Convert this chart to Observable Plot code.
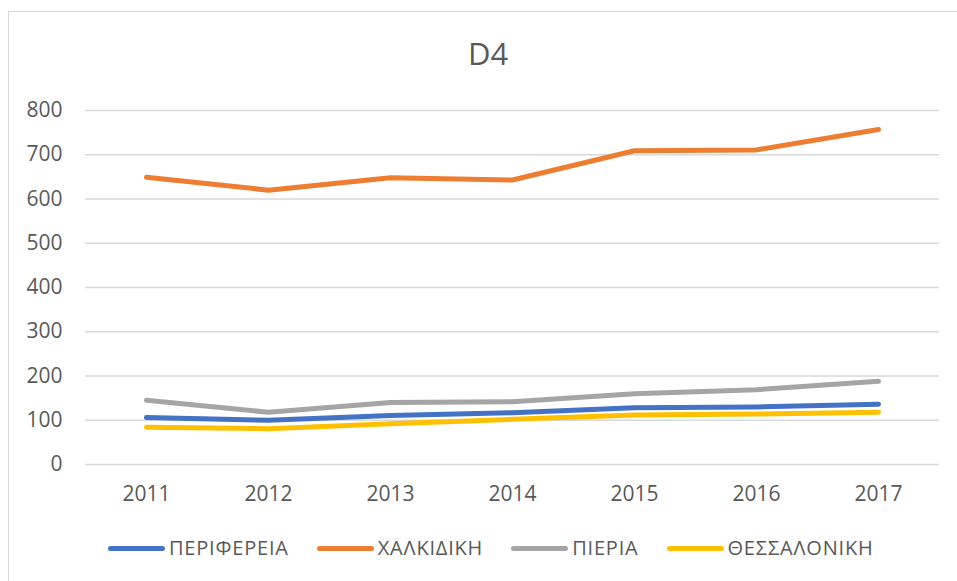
<!DOCTYPE html>
<html>
<head>
<meta charset="utf-8">
<script src="https://cdn.jsdelivr.net/npm/d3@7"></script>
<script src="https://cdn.jsdelivr.net/npm/@observablehq/plot@0.6"></script>
<style>
  html, body { margin: 0; padding: 0; background: #fff; }
  body { position: relative; width: 957px; height: 581px; overflow: hidden; font-family: "Open Sans", sans-serif; color: #595959; }
  #frame { position: absolute; left: 8px; top: 11px; width: 1200px; height: 1200px; border: 1.5px solid #d9d9d9; box-sizing: border-box; }
  #title { position: absolute; top: 38px; left: 0; width: 976px; text-align: center; font-size: 31px; line-height: 1; }
  #chart { position: absolute; top: 95px; left: 0; }
  #legend { position: absolute; top: 538px; left: 108px; display: flex; align-items: center; font-size: 20px; line-height: 20px; white-space: nowrap; letter-spacing: 0.8px; }
  .item { display: flex; align-items: center; margin-right: 28px; }
  .sw { display: inline-block; width: 57px; height: 5px; border-radius: 3px; margin-right: 4px; }
</style>
</head>
<body>
<div id="frame"></div>
<div id="title">D4</div>
<div id="chart"></div>
<div id="legend"></div>
<script>
const years = [2011, 2012, 2013, 2014, 2015, 2016, 2017];
const seriesNames = ["ΠΕΡΙΦΕΡΕΙΑ", "ΧΑΛΚΙΔΙΚΗ", "ΠΙΕΡΙΑ", "ΘΕΣΣΑΛΟΝΙΚΗ"];
const seriesColors = ["#4472C4", "#ED7D31", "#A5A5A5", "#FFC000"];
const perifereia = [106, 100, 111, 117, 128, 130, 136];
const chalkidiki = [649, 620, 648, 643, 709, 711, 757];
const pieria = [145, 118, 140, 142, 160, 169, 188];
const thessaloniki = [84, 81, 92, 102, 112, 114, 118];
const yTicks = [0, 100, 200, 300, 400, 500, 600, 700, 800];

const seriesValues = [perifereia, chalkidiki, pieria, thessaloniki];
const data = [];
seriesNames.forEach((name, i) => {
  years.forEach((yr, j) => data.push({ series: name, year: String(yr), value: seriesValues[i][j] }));
});

const chart = Plot.plot({
  width: 957,
  height: 425,
  marginLeft: 85,
  marginRight: 18,
  marginTop: 15,
  marginBottom: 56,
  style: { fontFamily: "Open Sans, sans-serif", fontSize: "21px", color: "#595959", background: "transparent", overflow: "visible" },
  x: { type: "point", domain: years.map(String), padding: 0.5, label: null },
  y: { domain: [0, 800], ticks: yTicks, label: null },
  color: { domain: seriesNames, range: seriesColors },
  marks: [
    Plot.gridY(yTicks, { stroke: "#d9d9d9", strokeOpacity: 1, strokeWidth: 1.5 }),
    Plot.axisY({ ticks: yTicks, tickSize: 0, tickPadding: 23, fill: "#595959", fontSize: 21 }),
    Plot.axisX({ tickSize: 0, tickPadding: 22, fill: "#595959", fontSize: 21 }),
    Plot.lineY(data, { x: "year", y: "value", z: "series", stroke: "series", strokeWidth: 5, strokeLinecap: "round", strokeLinejoin: "round" })
  ]
});
document.getElementById("chart").appendChild(chart);

const legend = document.getElementById("legend");
seriesNames.forEach((name, i) => {
  const item = document.createElement("div");
  item.className = "item";
  const sw = document.createElement("span");
  sw.className = "sw";
  sw.style.background = seriesColors[i];
  const t = document.createElement("span");
  t.textContent = name;
  item.appendChild(sw);
  item.appendChild(t);
  legend.appendChild(item);
});
</script>
</body>
</html>
